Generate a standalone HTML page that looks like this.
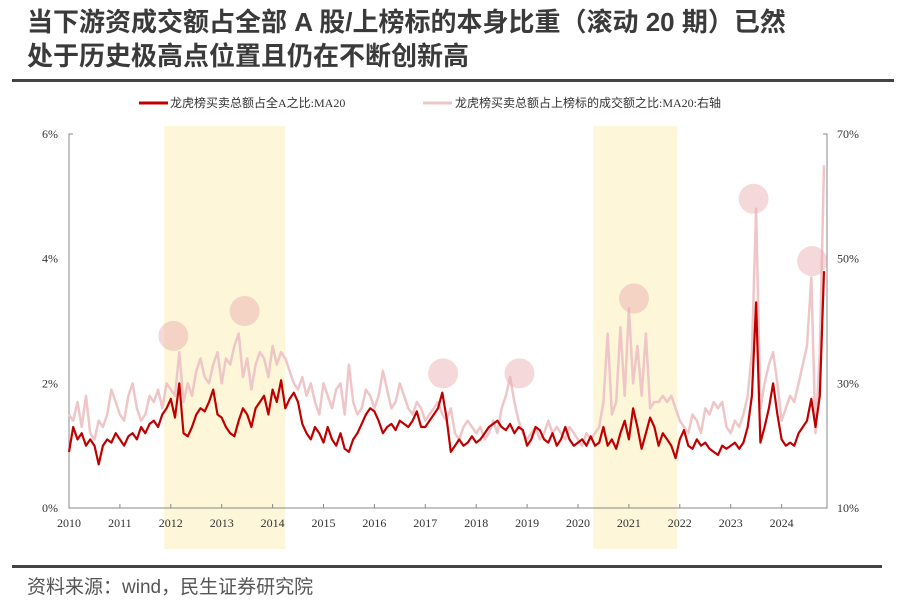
<!DOCTYPE html>
<html><head><meta charset="utf-8"><style>
body{margin:0;background:#fff;width:906px;height:608px;overflow:hidden;font-family:"Liberation Sans","Noto Sans CJK SC",sans-serif}
</style></head><body>
<svg width="906" height="608" xmlns="http://www.w3.org/2000/svg">
<text x="27" y="31" font-size="26" font-weight="bold" fill="#3a3a3a" font-family="Liberation Sans,Noto Sans CJK SC,sans-serif">当下游资成交额占全部 A 股/上榜标的本身比重（滚动 20 期）已然</text>
<text x="27" y="65" font-size="26" font-weight="bold" fill="#3a3a3a" font-family="Liberation Sans,Noto Sans CJK SC,sans-serif">处于历史极高点位置且仍在不断创新高</text>
<rect x="12" y="79" width="882" height="3" fill="#444"/>
<g id="legend" font-size="12" fill="#333" font-family="Liberation Serif,Noto Sans CJK SC,serif">
<line x1="139" y1="103" x2="168" y2="103" stroke="#c00000" stroke-width="3"/>
<text x="170" y="107">龙虎榜买卖总额占全A之比:MA20</text>
<line x1="423" y1="103" x2="452" y2="103" stroke="#efc6c8" stroke-width="3"/>
<text x="455" y="107">龙虎榜买卖总额占上榜标的成交额之比:MA20:右轴</text>
</g>
<g id="bands"></g>
<g id="axes" font-family="Liberation Serif,serif" font-size="12" fill="#333"></g>
<g id="series"></g>
<g id="circles"></g>
<rect x="12" y="565" width="870" height="3" fill="#444"/>
<text x="27" y="593" font-size="19" fill="#555" font-family="Liberation Sans,Noto Sans CJK SC,sans-serif">资料来源：wind，民生证券研究院</text>
</svg>
<script>
const years=[2010,2011,2012,2013,2014,2015,2016,2017,2018,2019,2020,2021,2022,2023,2024];
const leftTicks=[0,2,4,6];
const rightTicks=[10,30,50,70];
const redSeries=[
0.9,1.3,1.1,1.2,1.0,1.1,1.0,0.7,1.0,1.1,1.05,1.2,
1.1,1.0,1.15,1.2,1.1,1.3,1.2,1.35,1.4,1.3,1.5,1.6,
1.75,1.45,2.0,1.2,1.15,1.3,1.5,1.6,1.55,1.7,1.9,1.5,
1.45,1.3,1.2,1.15,1.4,1.6,1.5,1.3,1.6,1.7,1.8,1.5,
1.9,1.7,2.05,1.6,1.75,1.85,1.7,1.35,1.2,1.1,1.3,1.2,
1.05,1.3,1.1,1.0,1.2,0.95,0.9,1.1,1.2,1.35,1.5,1.6,
1.55,1.4,1.2,1.3,1.35,1.25,1.4,1.35,1.3,1.4,1.55,1.3,
1.3,1.4,1.5,1.6,1.85,1.45,0.9,1.0,1.1,1.0,1.05,1.15,
1.05,1.1,1.2,1.3,1.35,1.4,1.3,1.25,1.35,1.2,1.3,1.25,
1.0,1.1,1.3,1.25,1.1,1.05,1.2,1.0,1.1,1.3,1.1,1.0,
1.05,1.1,1.0,1.15,1.0,1.05,1.3,1.0,1.1,0.95,1.2,1.4,
1.1,1.6,1.3,0.95,1.2,1.45,1.3,1.0,1.2,1.1,1.0,0.8,
1.1,1.25,1.0,0.95,1.1,1.0,1.05,0.95,0.9,0.85,1.0,0.95,
1.0,1.05,0.95,1.05,1.3,1.8,3.3,1.05,1.3,1.6,2.0,1.5,
1.1,1.0,1.05,1.0,1.2,1.3,1.4,1.75,1.3,1.8,3.8];
const pinkSeries=[
25,24,27,23,28,22,21,24,23,25,29,27,
25,24,28,30,26,24,25,28,27,29,26,30,
29,28,35,27,30,28,32,34,31,30,33,35,
30,34,33,36,38,31,34,29,33,35,34,31,
36,33,35,34,32,30,29,31,28,30,27,25,
30,28,26,29,30,25,33,27,25,26,29,28,
26,28,32,29,26,27,30,28,26,25,27,26,
24,25,26,27,25,24,26,22,21,23,24,23,
22,23,21,22,24,22,26,28,31,27,24,22,
21,22,23,21,22,24,22,23,22,21,23,22,
21,20,22,21,22,23,27,38,25,27,39,28,
42,30,36,28,38,26,27,27,28,27,28,26,
24,23,22,25,24,22,26,25,27,26,27,23,
22,24,23,25,28,35,58,26,30,33,35,30,
24,26,28,27,30,33,36,47,22,35,65];
const bandRanges=[[2011.87,2014.25],[2020.3,2021.95]];
const highlightTimes=[2012.05,2013.45,2017.35,2018.85,2021.1,2023.45,2024.6];
const highlightValues=[36,40,30,30,42,58,48];

const NS='http://www.w3.org/2000/svg';
const X0=69,YW=50.9,Y0=508,Y6=134;
const xs=t=>X0+(t-2010)*YW;
const yl=v=>Y0-(v/6)*(Y0-Y6);
const yr=v=>Y0-((v-10)/60)*(Y0-Y6);
function mk(tag,attrs,parent){const e=document.createElementNS(NS,tag);for(const k in attrs)e.setAttribute(k,attrs[k]);parent.appendChild(e);return e;}
const bands=document.getElementById('bands');
bandRanges.forEach((r,i)=>{
 const e=mk('rect',{x:xs(r[0]),y:126,width:xs(r[1])-xs(r[0]),height:423,fill:'#fdf6d8'},bands);
 
 
});
const ax=document.getElementById('axes');
const xEnd=827;
let e=mk('path',{d:`M${X0+4} ${Y6}H${X0}V${Y0}H${xEnd}V${Y6}H${xEnd-4}`,stroke:'#888',fill:'none','stroke-width':1},ax);


years.forEach(y=>{
 const x=xs(y);
 let t=mk('line',{x1:x,y1:Y0,x2:x,y2:Y0-4,stroke:'#888'},ax);
 
 
 let l=mk('text',{x:x,y:527,'text-anchor':'middle'},ax);l.textContent=y;
 
 
});
leftTicks.forEach(v=>{
 let l=mk('text',{x:58,y:yl(v)+4,'text-anchor':'end'},ax);l.textContent=v+'%';
 
 
});
rightTicks.forEach(v=>{
 let l=mk('text',{x:837,y:yr(v)+4},ax);l.textContent=v+'%';
 
 
});
const ser=document.getElementById('series');
const pts=(arr,f)=>arr.map((v,i)=>xs(2010+i/12).toFixed(1)+','+f(v).toFixed(1)).join(' ');
let p=mk('polyline',{points:pts(pinkSeries,yr),fill:'none',stroke:'#efc6c8','stroke-width':2.5,'stroke-linejoin':'round'},ser);


let r=mk('polyline',{points:pts(redSeries,yl),fill:'none',stroke:'#c00000','stroke-width':2.2,'stroke-linejoin':'round'},ser);


const cg=document.getElementById('circles');
highlightTimes.forEach((t,i)=>{
 let c=mk('circle',{cx:xs(t),cy:yr(highlightValues[i])-10,r:15,fill:'#e8a8ae','fill-opacity':0.45},cg);
 
 
});
</script>
</body></html>
